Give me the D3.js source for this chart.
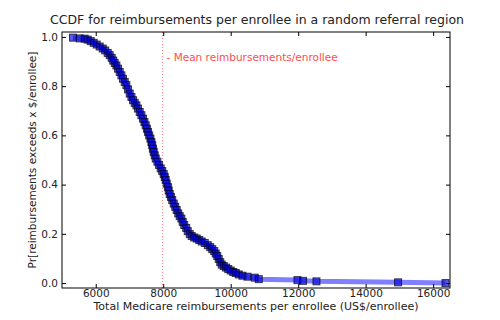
<!doctype html>
<html lang="en">
<head>
<meta charset="utf-8">
<script src="https://d3js.org/d3.v7.min.js"></script>
<title>CCDF reimbursements</title>
<style>
  body { margin: 0; background: #fff; }
  text { font-family: "DejaVu Sans", sans-serif; fill: #222; }
</style>
</head>
<body>
<svg id="svg1" width="500" height="320"></svg>
<script>
// reimbursements per enrollee (US$)
let spend = [5326, 5525, 5673, 5762, 5851, 5940, 6029, 6118, 6207, 6281,
  6355, 6414, 6473, 6518, 6562, 6613, 6660, 6711, 6761, 6808,
  6859, 6909, 6957, 7007, 7058, 7105, 7155, 7206, 7253, 7304,
  7354, 7401, 7443, 7481, 7517, 7550, 7585, 7621, 7650, 7674,
  7695, 7719, 7748, 7778, 7828, 7876, 7926, 7971, 8015, 8045,
  8074, 8104, 8140, 8163, 8193, 8229, 8267, 8312, 8356, 8400,
  8445, 8489, 8540, 8578, 8623, 8682, 8727, 8786, 8846, 8919,
  8993, 9068, 9142, 9231, 9320, 9394, 9453, 9512, 9557, 9601,
  9646, 9690, 9735, 9795, 9862, 9928, 10001, 10076, 10150, 10239,
  10348, 10497, 10713, 10832, 11979, 12145, 12542, 14961, 16367];
// Pr[reimbursements > x]
let prob = [0.997, 0.994, 0.993, 0.989, 0.983, 0.976, 0.969, 0.961, 0.953, 0.945,
  0.935, 0.926, 0.915, 0.904, 0.894, 0.884, 0.871, 0.858, 0.844, 0.830,
  0.817, 0.804, 0.787, 0.770, 0.756, 0.743, 0.732, 0.722, 0.709, 0.695,
  0.682, 0.668, 0.654, 0.641, 0.627, 0.614, 0.600, 0.587, 0.573, 0.560,
  0.546, 0.533, 0.519, 0.506, 0.493, 0.480, 0.466, 0.455, 0.443, 0.431,
  0.419, 0.404, 0.390, 0.376, 0.362, 0.350, 0.337, 0.323, 0.310, 0.297,
  0.283, 0.272, 0.262, 0.248, 0.236, 0.224, 0.211, 0.199, 0.191, 0.185,
  0.181, 0.175, 0.169, 0.163, 0.154, 0.146, 0.138, 0.130, 0.120, 0.110,
  0.098, 0.085, 0.075, 0.069, 0.063, 0.057, 0.051, 0.045, 0.041, 0.035,
  0.030, 0.026, 0.022, 0.016, 0.012, 0.009, 0.007, 0.003, 0.000];
let meanSpend = 7980;
let xTicks = [6000, 8000, 10000, 12000, 14000, 16000];
let yTicks = [0, 0.2, 0.4, 0.6, 0.8, 1.0];

let margin = { top: 32, right: 50, bottom: 32, left: 62 };
let width = 500 - margin.left - margin.right;
let height = 320 - margin.top - margin.bottom;

let svg = d3.select("#svg1");
let g = svg.append("g").attr("transform", `translate(${margin.left},${margin.top})`);

let xScale = d3.scaleLinear().domain([5000, 16500]).range([0, width]);
let yScale = d3.scaleLinear().domain([-0.02, 1.02]).range([height, 0]);

let data = spend.map((s, i) => ({ x: s, y: prob[i] }));

// mean line
g.append("line")
  .attr("x1", xScale(meanSpend)).attr("x2", xScale(meanSpend))
  .attr("y1", 0).attr("y2", height)
  .attr("stroke", "#ff0000").attr("stroke-opacity", 0.45)
  .attr("stroke-width", 1.2).attr("stroke-dasharray", "1,2");

g.append("text")
  .attr("x", xScale(meanSpend) + 4).attr("y", 29)
  .attr("font-size", "10.5px")
  .style("fill", "#ff4d4d")
  .text("- Mean reimbursements/enrollee");

// CCDF line
let line = d3.line().x(d => xScale(d.x)).y(d => yScale(d.y));
g.append("path")
  .datum(data)
  .attr("d", line)
  .attr("fill", "none")
  .attr("stroke", "#0000ff").attr("stroke-opacity", 0.5)
  .attr("stroke-width", 5).attr("stroke-linejoin", "round");

// square markers
let ms = 7;
g.selectAll("rect.pt")
  .data(data)
  .join("rect")
  .attr("class", "pt")
  .attr("x", d => xScale(d.x) - ms / 2)
  .attr("y", d => yScale(d.y) - ms / 2)
  .attr("width", ms).attr("height", ms)
  .attr("fill", "#0000e0").attr("fill-opacity", 0.65)
  .attr("stroke", "#000010").attr("stroke-opacity", 0.7).attr("stroke-width", 1);

// axes with inward ticks on all four sides
let tickLen = 4;
let xAxisB = g.append("g").attr("transform", `translate(0,${height})`)
  .call(d3.axisBottom(xScale).tickValues(xTicks).tickSize(-tickLen).tickPadding(2).tickFormat(d3.format("d")));
let xAxisT = g.append("g")
  .call(d3.axisTop(xScale).tickValues(xTicks).tickSize(-tickLen).tickFormat(""));
let yAxisL = g.append("g")
  .call(d3.axisLeft(yScale).tickValues(yTicks).tickSize(-tickLen).tickPadding(4).tickFormat(d3.format(".1f")));
let yAxisR = g.append("g").attr("transform", `translate(${width},0)`)
  .call(d3.axisRight(yScale).tickValues(yTicks).tickSize(-tickLen).tickFormat(""));

[xAxisB, xAxisT, yAxisL, yAxisR].forEach(a => {
  a.select(".domain").remove();
  a.selectAll("line").attr("stroke", "#000");
  a.selectAll("text").attr("font-size", "10.5px").attr("font-family", "DejaVu Sans").style("fill", "#222");
});

g.append("rect")
  .attr("width", width).attr("height", height)
  .attr("fill", "none").attr("stroke", "#000").attr("stroke-width", 1);

// title and labels
svg.append("text")
  .attr("x", margin.left + width / 2 + 1).attr("y", 24)
  .attr("text-anchor", "middle").attr("font-size", "12.5px")
  .text("CCDF for reimbursements per enrollee in a random referral region");

svg.append("text")
  .attr("x", 256).attr("y", 310)
  .attr("text-anchor", "middle").attr("font-size", "11px")
  .text("Total Medicare reimbursements per enrollee  (US$/enrollee)");

svg.append("text")
  .attr("transform", `translate(36,${margin.top + height / 2}) rotate(-90)`)
  .attr("text-anchor", "middle").attr("font-size", "10.5px")
  .text("Pr[reimbursements exceeds x $/enrollee]");
</script>
</body>
</html>
